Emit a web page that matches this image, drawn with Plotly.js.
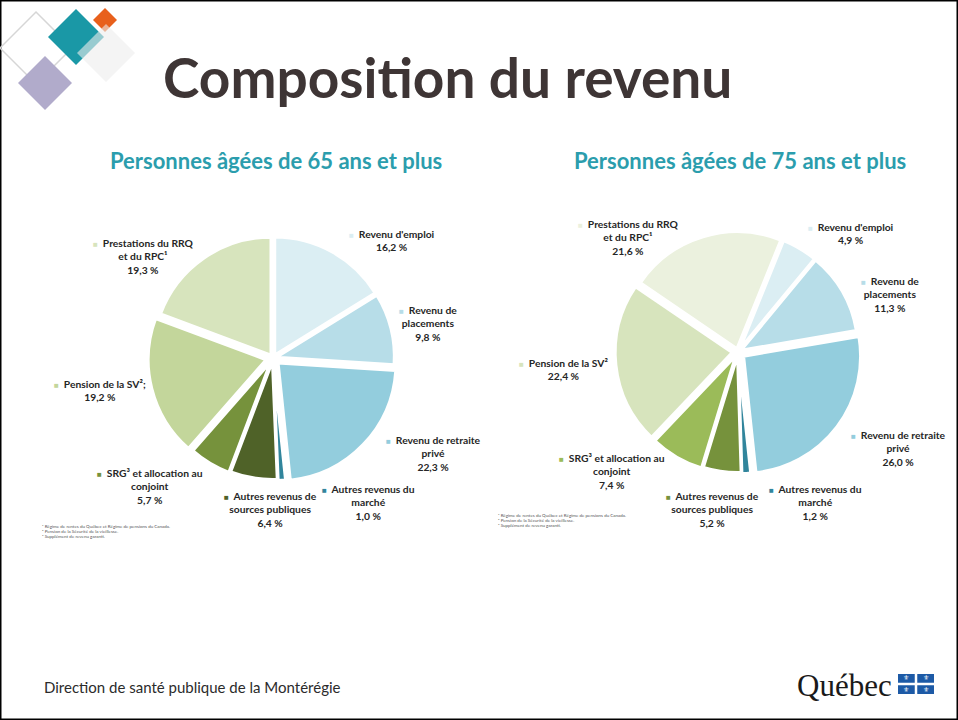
<!DOCTYPE html>
<html>
<head>
<meta charset="utf-8">
<script src="https://cdn.plot.ly/plotly-3.0.1.min.js"></script>
<style>
  html, body { margin: 0; padding: 0; background: #fff; }
  #chart { width: 958px; height: 720px; }
</style>
</head>
<body>
<div id="chart"></div>
<script>
// Composition du revenu, 65+ and 75+ (slices go clockwise from the top)
const categories = [
  "Revenu d'emploi",
  "Revenu de placements",
  "Revenu de retraite privé",
  "Autres revenus du marché",
  "Autres revenus de sources publiques",
  "SRG³ et allocation au conjoint",
  "Pension de la SV²",
  "Prestations du RRQ et du RPC¹",
];
const values65 = [16.2, 9.8, 22.3, 1.0, 6.4, 5.7, 19.2, 19.3];
const values75 = [4.9, 11.3, 26.0, 1.2, 5.2, 7.4, 22.4, 21.6];

// label text as broken on the slide
const labelLines65 = [
  "Revenu d'emploi",
  "Revenu de<br>placements",
  "Revenu de retraite<br>privé",
  "Autres revenus du<br>marché",
  "Autres revenus de<br>sources publiques",
  "SRG³ et allocation au<br>conjoint",
  "Pension de la SV²;",
  "Prestations du RRQ<br>et du RPC¹",
];
const labelLines75 = [
  "Revenu d'emploi",
  "Revenu de<br>placements",
  "Revenu de retraite<br>privé",
  "Autres revenus du<br>marché",
  "Autres revenus de<br>sources publiques",
  "SRG³ et allocation au<br>conjoint",
  "Pension de la SV²",
  "Prestations du RRQ<br>et du RPC¹",
];
const footnotes = [
  "¹ Régime de rentes du Québec et Régime de pensions du Canada.",
  "² Pension de la Sécurité de la vieillesse.",
  "³ Supplément de revenu garanti.",
];

const colors65 = ["#dbeef3", "#b7dde8", "#93cddd", "#31859c", "#4f6228", "#76923c", "#c3d69b", "#d7e4bd"];
const colors75 = ["#dbeef3", "#b7dde8", "#93cddd", "#31859c", "#76923c", "#9bbb59", "#d7e4bd", "#ebf1de"];

// label anchor points in slide pixels
const labelPos65 = [[392, 241], [428, 324], [433, 453], [368, 502], [270, 509], [150, 486], [100, 391], [143, 256]];
const labelPos75 = [[851, 234], [890, 294], [898, 448], [815, 502], [712, 509], [612, 471], [563, 370], [628, 238]];

const W = 958, H = 720;
const px = (x) => x / W;
const py = (y) => 1 - y / H;

const fmt = (v) => v.toFixed(1).replace(".", ",") + " %";

function pieTrace(values, colors, dom, rotation, pull) {
  return {
    type: "pie",
    labels: categories,
    values,
    sort: false,
    direction: "clockwise",
    rotation,
    pull,
    textinfo: "none",
    hoverinfo: "label+percent",
    showlegend: false,
    marker: { colors, line: { color: "#ffffff", width: 3 } },
    domain: { x: [px(dom[0]), px(dom[2])], y: [py(dom[3]), py(dom[1])] },
  };
}

function sliceLabels(values, lines, colors, pos) {
  return values.map((v, i) => ({
    xref: "paper", yref: "paper",
    x: px(pos[i][0]), y: py(pos[i][1]),
    xanchor: "center", yanchor: "middle",
    align: "center",
    showarrow: false,
    font: { family: "Lato, sans-serif", size: 10.3, color: "#262626", weight: "bold" },
    text: `<span style="color:${colors[i]};font-size:8px">■</span>  <b>${lines[i]}<br>${fmt(v)}</b>`,
  }));
}

function footnoteBlock(x, y) {
  return footnotes.map((t, i) => ({
    xref: "paper", yref: "paper",
    x: px(x), y: py(y + i * 5),
    xanchor: "left", yanchor: "middle",
    showarrow: false,
    font: { family: "Lato, sans-serif", size: 4.5, color: "#555" },
    text: t,
  }));
}

const traces = [
  pieTrace(values65, colors65, [148, 233, 398, 483], 0, [0.03, 0.03, 0.06, 0.04, 0.03, 0.04, 0.06, 0.03]),
  pieTrace(values75, colors75, [614, 228, 862, 476], 22, [0.03, 0.03, 0.06, 0.04, 0.03, 0.04, 0.05, 0.03]),
];

// decorative diamonds, top-left of the slide
function diamond(cx, cy, r, fill, line, opacity) {
  return {
    type: "path", xref: "paper", yref: "paper", layer: "above",
    path: `M${px(cx)},${py(cy - r)} L${px(cx + r)},${py(cy)} L${px(cx)},${py(cy + r)} L${px(cx - r)},${py(cy)} Z`,
    fillcolor: fill, opacity: opacity ?? 1,
    line: line || { width: 0 },
  };
}

// Québec flag: four blue panes with a white lily in each
const flagBox = [898, 674, 36, 20];
function flagShapes([x0, y0, w, h]) {
  const gap = 2.5;
  const cw = (w - gap) / 2, ch = (h - gap) / 2;
  const out = [];
  for (let r = 0; r < 2; r++) {
    for (let c = 0; c < 2; c++) {
      const x = x0 + c * (cw + gap), y = y0 + r * (ch + gap);
      out.push({
        type: "rect", xref: "paper", yref: "paper",
        x0: px(x), x1: px(x + cw), y0: py(y + ch), y1: py(y),
        fillcolor: "#1d5aa6", line: { width: 0 },
      });
    }
  }
  return out;
}
function flagLilies([x0, y0, w, h]) {
  const gap = 2.5;
  const cw = (w - gap) / 2, ch = (h - gap) / 2;
  const out = [];
  for (let r = 0; r < 2; r++) {
    for (let c = 0; c < 2; c++) {
      out.push({
        xref: "paper", yref: "paper",
        x: px(x0 + c * (cw + gap) + cw / 2), y: py(y0 + r * (ch + gap) + ch / 2),
        xanchor: "center", yanchor: "middle", showarrow: false,
        font: { family: "DejaVu Sans, sans-serif", size: 7, color: "#ffffff" },
        text: "⚜",
      });
    }
  }
  return out;
}

const shapes = [
  { type: "rect", xref: "paper", yref: "paper", x0: 0, x1: 1, y0: 0, y1: 1, line: { color: "#000", width: 3 } },
  diamond(36, 48, 36, "rgba(0,0,0,0)", { color: "#d6d6d6", width: 1.5 }),
  diamond(76, 37, 28, "#1a98a6"),
  diamond(105, 20, 12, "#e8601c"),
  diamond(106, 53, 29, "#ececec", null, 0.6),
  diamond(45, 83, 27, "#b1abcb"),
  ...flagShapes(flagBox),
];

const annotations = [
  {
    xref: "paper", yref: "paper", x: px(447), y: py(77),
    xanchor: "center", yanchor: "middle", showarrow: false,
    font: { family: "Lato, sans-serif", size: 55, color: "#3e3535", weight: "bold" },
    text: "<b>Composition du revenu</b>",
  },
  {
    xref: "paper", yref: "paper", x: px(276), y: py(160),
    xanchor: "center", yanchor: "middle", showarrow: false,
    font: { family: "Lato, sans-serif", size: 22, color: "#2b9dad" },
    text: "<b>Personnes âgées de 65 ans et plus</b>",
  },
  {
    xref: "paper", yref: "paper", x: px(740), y: py(160),
    xanchor: "center", yanchor: "middle", showarrow: false,
    font: { family: "Lato, sans-serif", size: 22, color: "#2b9dad" },
    text: "<b>Personnes âgées de 75 ans et plus</b>",
  },
  ...sliceLabels(values65, labelLines65, colors65, labelPos65),
  ...sliceLabels(values75, labelLines75, colors75, labelPos75),
  ...footnoteBlock(40, 526),
  ...footnoteBlock(496, 515),
  {
    xref: "paper", yref: "paper", x: px(42), y: py(687),
    xanchor: "left", yanchor: "middle", showarrow: false,
    font: { family: "Lato, sans-serif", size: 15, color: "#2b2b2b" },
    text: "Direction de santé publique de la Montérégie",
  },
  {
    xref: "paper", yref: "paper", x: px(894), y: py(685),
    xanchor: "right", yanchor: "middle", showarrow: false,
    font: { family: "Liberation Serif, serif", size: 31, color: "#1a1a1a" },
    text: "Québec",
  },
  ...flagLilies(flagBox),
];

const layout = {
  width: W,
  height: H,
  margin: { l: 0, r: 0, t: 0, b: 0 },
  paper_bgcolor: "#ffffff",
  showlegend: false,
  shapes,
  annotations,
};

Plotly.newPlot("chart", traces, layout, { displayModeBar: false, staticPlot: true });
</script>
</body>
</html>
